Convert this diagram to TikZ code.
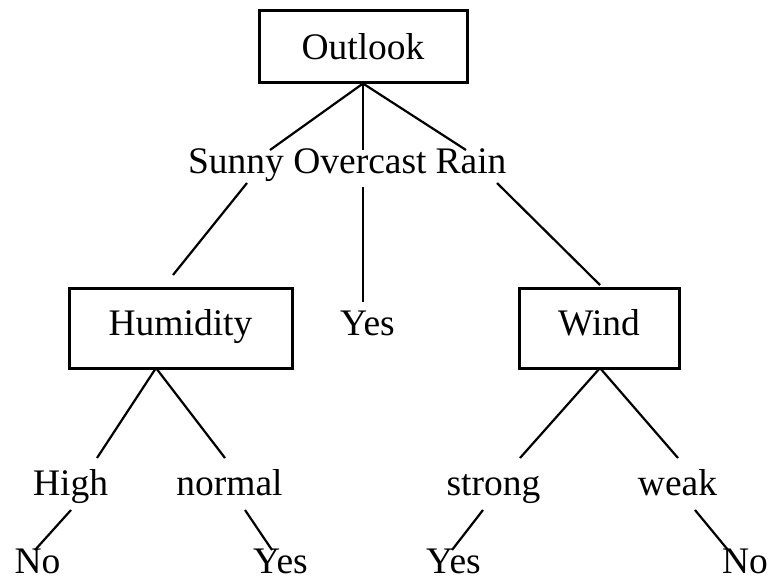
\documentclass[tikz,border=0pt]{standalone}
\usepackage{fontspec}
\setmainfont{Liberation Serif}
\tikzset{
  attrbox/.style={draw, line width=1.5pt, inner sep=0pt, text height=13pt, text depth=0pt},
  lbl/.style={anchor=base, inner sep=0pt},
  edge/.style={line width=1.1pt},
  every node/.style={font=\fontsize{18.75pt}{22pt}\selectfont}
}
\begin{document}
\begin{tikzpicture}[x=0.5pt,y=-0.5pt]
\useasboundingbox (0,0) rectangle (771,578);

% decision nodes
\node (outlook) at (363,46) [attrbox,minimum width=104pt,minimum height=36pt]{Outlook};
\node (humidity) at (180.5,328) [attrbox,text depth=6pt,minimum width=111.5pt,minimum height=40pt]{Humidity};
\node (wind) at (599,328) [attrbox,text depth=6pt,minimum width=80pt,minimum height=40pt]{Wind};

% branch labels
\node (sunny) at (236,173) [lbl]{Sunny};
\node (overcast) at (360,173) [lbl]{Overcast};
\node (rain) at (471,173) [lbl]{Rain};
\node (high) at (70.5,495) [lbl]{High};
\node (normal) at (229.5,495) [lbl]{normal};
\node (strong) at (493.5,495) [lbl]{strong};
\node (weak) at (677.5,495) [lbl]{weak};

% leaves
\node (yesA) at (367.5,335) [lbl]{Yes};
\node (noA) at (37.5,573) [lbl]{No};
\node (yesB) at (280.5,573) [lbl]{Yes};
\node (yesC) at (453.5,573) [lbl]{Yes};
\node (noB) at (745,573) [lbl]{No};

% line ends
\coordinate (s1) at (270,150);  \coordinate (s2) at (247,183);  \coordinate (s3) at (173,275);
\coordinate (o1) at (363,150);  \coordinate (o2) at (363,187);  \coordinate (o3) at (363,302);
\coordinate (r1) at (466,150);  \coordinate (r2) at (497,183);  \coordinate (r3) at (600,285);
\coordinate (hTop) at (156,368);
\coordinate (h1) at (97,458);   \coordinate (h2) at (71,510);   \coordinate (h3) at (35,550);
\coordinate (n1) at (225,458);  \coordinate (n2) at (245,510);  \coordinate (n3) at (272,550);
\coordinate (wTop) at (600,368);
\coordinate (t1) at (520,458);  \coordinate (t2) at (483,510);  \coordinate (t3) at (452,550);
\coordinate (k1) at (678,458);  \coordinate (k2) at (695,510);  \coordinate (k3) at (728,550);

\draw[edge] (outlook.south)--(s1);
\draw[edge] (outlook.south)--(o1);
\draw[edge] (outlook.south)--(r1);
\draw[edge] (s2)--(s3);
\draw[edge] (o2)--(o3);
\draw[edge] (r2)--(r3);

\draw[edge] (hTop)--(h1);
\draw[edge] (hTop)--(n1);
\draw[edge] (h2)--(h3);
\draw[edge] (n2)--(n3);

\draw[edge] (wTop)--(t1);
\draw[edge] (wTop)--(k1);
\draw[edge] (t2)--(t3);
\draw[edge] (k2)--(k3);

\end{tikzpicture}
\end{document}
